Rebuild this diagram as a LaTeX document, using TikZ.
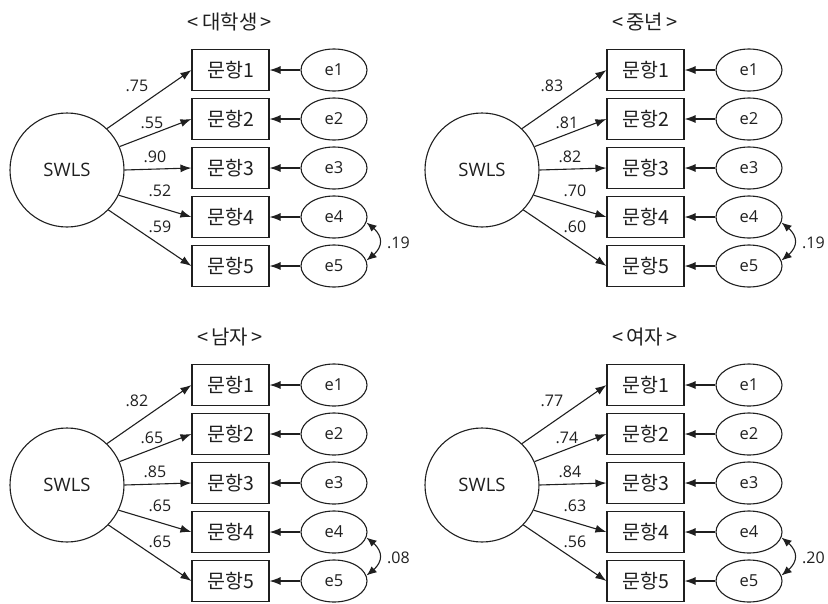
\documentclass[tikz,border=0pt]{standalone}
\usepackage{fontspec}
\setmainfont{Open Sans}
\newfontfamily\kr{Noto Sans CJK KR}
\usetikzlibrary{shapes.geometric,arrows.meta,bending}
\definecolor{ink}{gray}{0.12}
\tikzset{
  every picture/.style={x=1pt,y=-1pt},
  every node/.style={text=ink},
  item/.style={draw=ink,line width=1.1pt,minimum width=77pt,minimum height=41pt,inner sep=0pt,font=\kr\fontsize{19.5}{19.5}\selectfont},
  err/.style={draw=ink,ellipse,line width=1.1pt,minimum width=66pt,minimum height=42pt,inner sep=0pt,font=\fontsize{16.5}{16.5}\selectfont},
  latent/.style={draw=ink,circle,line width=1.1pt,minimum size=114pt,inner sep=0pt,font=\fontsize{18.5}{18.5}\selectfont},
  ttl/.style={font=\kr\fontsize{20}{20}\selectfont},
  lbl/.style={font=\fontsize{16}{16}\selectfont,inner sep=0pt},
  arr/.style={draw=ink,line width=1.1pt,-{Latex[length=11pt,width=8pt]}},
  cov/.style={draw=ink,line width=1.1pt,{Latex[length=10pt,width=8pt,bend]}-{Latex[length=10pt,width=8pt,bend]}},
}
\newcommand\semPanel[9]{%
  \begin{scope}[shift={(#2)}]
    \node[ttl] (#1t) at (230,22) {<\,#3\,>};
    \node[latent] (#1c) at (67,170) {SWLS};
    \foreach \i in {1,...,5}{
      \node[item] (#1b\i) at (230.5,{70+49*(\i-1)}) {문항\i};
      \node[err] (#1e\i) at (334,{70+49*(\i-1)}) {e\i};
      \draw[arr] (#1e\i.west) -- (#1b\i.east);
    }
    \draw[arr] (#1c.46) -- (#1b1.west);
    \draw[arr] (#1c.24) -- (#1b2.west);
    \draw[arr] (#1c.0) -- (#1b3.west);
    \draw[arr] (#1c.-26) -- (#1b4.west);
    \draw[arr] (#1c.-44) -- (#1b5.west);
    \node[lbl] (#1l1) at (137,86) {#4};
    \node[lbl] (#1l2) at (152,123) {#5};
    \node[lbl] (#1l3) at (155,157) {#6};
    \node[lbl] (#1l4) at (160,191) {#7};
    \node[lbl] (#1l5) at (160,227) {#8};
    \draw[cov] (#1e4.-10) .. controls +(19,12) and +(19,-12) .. (#1e5.10);
    \node[lbl,anchor=west] (#1lc) at (387,243) {#9};
  \end{scope}}
\begin{document}
\begin{tikzpicture}
\useasboundingbox (0,0) rectangle (828,603);
\semPanel{a}{0,0}{대학생}{.75}{.55}{.90}{.52}{.59}{.19}
\semPanel{b}{415,0}{중년}{.83}{.81}{.82}{.70}{.60}{.19}
\semPanel{c}{0,315}{남자}{.82}{.65}{.85}{.65}{.65}{.08}
\semPanel{d}{415,315}{여자}{.77}{.74}{.84}{.63}{.56}{.20}
\end{tikzpicture}
\end{document}
